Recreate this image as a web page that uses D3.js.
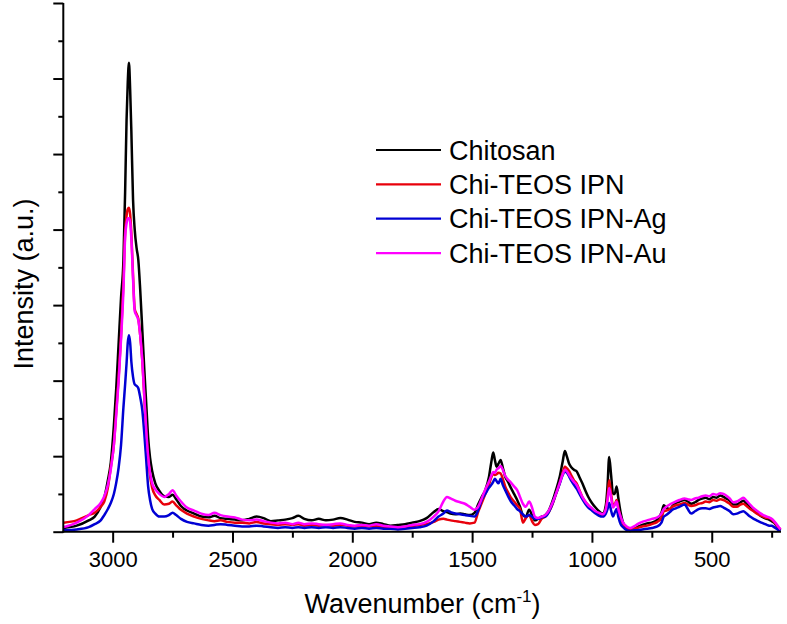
<!DOCTYPE html>
<html>
<head>
<meta charset="utf-8">
<script src="https://cdn.jsdelivr.net/npm/d3@7"></script>
<style>
  html, body { margin: 0; padding: 0; background: #fff; }
  svg { display: block; }
  text { font-family: "Liberation Sans", Arial, Helvetica, sans-serif; fill: #000; }
</style>
</head>
<body>
<svg id="chart" width="787" height="624"></svg>
<script>
// ---------------- data ----------------
const wavenumbers = [
  3205, 3150, 3100, 3075, 3050,
  3035, 3020, 3008, 2995, 2985, 2975, 2965, 2955, 2948, 2942, 2937, 2932, 2927, 2922, 2915, 2908,
  2900, 2893, 2885, 2876, 2868, 2860, 2852, 2844, 2835, 2822, 2805, 2785, 2765, 2750, 2735, 2715,
  2690, 2660, 2630, 2600, 2575, 2550, 2520, 2490, 2460, 2430, 2400, 2370, 2340, 2310, 2280, 2250,
  2225, 2200, 2170, 2140, 2110, 2080, 2050, 2020, 1990, 1960, 1930, 1900, 1870, 1840, 1810, 1780, 1750, 1720,
  1690, 1660, 1640, 1620, 1605, 1590, 1570, 1550, 1530, 1510,
  1490, 1475, 1460, 1445, 1430, 1420, 1412, 1405, 1398, 1390,
  1381, 1372, 1362, 1350, 1338, 1325, 1312, 1300, 1288, 1276,
  1262, 1250, 1238, 1225, 1210, 1195, 1180, 1165, 1150, 1135,
  1122, 1113, 1105, 1095, 1085, 1075, 1064, 1052, 1040, 1028,
  1015, 1000, 985, 970, 955, 942, 935, 928, 920, 912,
  905, 897, 890, 880, 870,
  855, 840, 825, 810, 790, 770, 750, 727, 710, 700,
  690, 675, 664, 650, 635, 613, 600, 586, 570, 555,
  540, 525, 510, 494, 480, 465, 451, 440, 425, 410,
  395, 380, 368, 355, 340, 325, 313, 300, 285, 270,
  261, 250, 240, 230, 220, 213
];

const chitosan = [
  0.05, 0.08, 0.15, 0.2, 0.33,
  0.45, 0.68, 0.91, 1.4, 1.9, 2.5, 3.1, 3.6, 4.5, 5.45, 5.95, 6.21, 5.85, 5.3, 4.4, 4.0,
  3.75, 3.6, 3.2, 2.65, 2.15, 1.7, 1.25, 0.98, 0.8, 0.64, 0.54, 0.47, 0.46, 0.49, 0.43, 0.34,
  0.28, 0.24, 0.2, 0.19, 0.21, 0.18, 0.17, 0.16, 0.15, 0.17, 0.2, 0.18, 0.14, 0.15, 0.16, 0.18,
  0.21, 0.17, 0.15, 0.17, 0.15, 0.16, 0.18, 0.16, 0.13, 0.12, 0.1, 0.12, 0.1, 0.08, 0.09, 0.1, 0.12, 0.14,
  0.18, 0.26, 0.3, 0.27, 0.26, 0.24, 0.23, 0.24, 0.23, 0.22,
  0.25, 0.36, 0.46, 0.55, 0.72, 0.92, 1.05, 0.95, 0.86, 0.9,
  0.95, 0.85, 0.73, 0.66, 0.58, 0.5, 0.42, 0.33, 0.22, 0.2,
  0.29, 0.22, 0.15, 0.17, 0.2, 0.22, 0.28, 0.4, 0.55, 0.72,
  0.93, 1.07, 1.0, 0.9, 0.85, 0.82, 0.8, 0.72, 0.64, 0.55,
  0.46, 0.38, 0.32, 0.27, 0.24, 0.35, 0.6, 0.99, 0.75, 0.5,
  0.5, 0.6, 0.45, 0.25, 0.12,
  0.06, 0.04, 0.04, 0.06, 0.09, 0.11, 0.12, 0.16, 0.25, 0.35,
  0.32, 0.3, 0.34, 0.38, 0.4, 0.42, 0.4, 0.37, 0.39, 0.42,
  0.44, 0.45, 0.43, 0.46, 0.45, 0.48, 0.46, 0.44, 0.41, 0.36,
  0.36, 0.39, 0.41, 0.37, 0.32, 0.28, 0.25, 0.22, 0.19, 0.17,
  0.16, 0.14, 0.12, 0.08, 0.04, 0.02
];

const chiTeosIpn = [
  0.12, 0.15, 0.22, 0.25, 0.33,
  0.4, 0.58, 0.85, 1.15, 1.6, 2.05, 2.6, 3.3, 3.95, 4.18, 4.27, 4.29, 4.2, 3.95, 3.4, 2.95,
  2.88, 2.82, 2.6, 2.25, 1.78, 1.32, 0.98, 0.74, 0.58, 0.48, 0.42, 0.36, 0.37, 0.4, 0.35, 0.29,
  0.24, 0.2, 0.17, 0.15, 0.14, 0.15, 0.13, 0.12, 0.12, 0.11, 0.13, 0.11, 0.1, 0.09, 0.1, 0.09,
  0.1, 0.08, 0.09, 0.08, 0.09, 0.08, 0.09, 0.08, 0.07, 0.08, 0.07, 0.08, 0.06, 0.06, 0.05, 0.06, 0.07, 0.09,
  0.1, 0.13, 0.16, 0.17, 0.16, 0.15, 0.14, 0.13, 0.12, 0.11,
  0.12, 0.26, 0.38, 0.5, 0.62, 0.72, 0.77, 0.75, 0.76, 0.78,
  0.77, 0.7, 0.6, 0.52, 0.45, 0.4, 0.35, 0.3, 0.12, 0.18,
  0.22, 0.14, 0.09, 0.1, 0.17, 0.2, 0.26, 0.36, 0.5, 0.64,
  0.78, 0.86, 0.84, 0.8, 0.74, 0.68, 0.64, 0.55, 0.46, 0.4,
  0.35, 0.3, 0.26, 0.23, 0.22, 0.3, 0.45, 0.68, 0.5, 0.35,
  0.36, 0.42, 0.32, 0.18, 0.1,
  0.05, 0.03, 0.04, 0.05, 0.07, 0.08, 0.1, 0.13, 0.18, 0.27,
  0.28, 0.3, 0.33, 0.35, 0.36, 0.38, 0.36, 0.34, 0.35, 0.37,
  0.38, 0.4, 0.39, 0.42, 0.41, 0.43, 0.42, 0.4, 0.37, 0.33,
  0.33, 0.36, 0.37, 0.34, 0.3, 0.27, 0.24, 0.22, 0.2, 0.18,
  0.18, 0.16, 0.13, 0.09, 0.05, 0.03
];

const chiTeosIpnAg = [
  0.02, 0.03, 0.06, 0.1, 0.15,
  0.22, 0.3, 0.38, 0.5, 0.65, 0.85, 1.15, 1.65, 1.95, 2.23, 2.5, 2.6, 2.5, 2.25, 2.05, 1.95,
  1.93, 1.9, 1.78, 1.6, 1.3, 0.95, 0.6, 0.42, 0.3, 0.24, 0.2, 0.2, 0.22, 0.25, 0.22, 0.17,
  0.13, 0.11, 0.09, 0.08, 0.09, 0.1, 0.09, 0.08, 0.07, 0.07, 0.08, 0.07, 0.06, 0.05, 0.06, 0.05,
  0.06, 0.05, 0.06, 0.05, 0.06, 0.05, 0.06, 0.05, 0.04, 0.05, 0.04, 0.05, 0.04, 0.04, 0.03, 0.04, 0.05, 0.06,
  0.08, 0.14, 0.2, 0.24, 0.28, 0.26, 0.24, 0.23, 0.22, 0.21,
  0.2, 0.28, 0.42, 0.5, 0.58, 0.62, 0.66, 0.7, 0.67, 0.64,
  0.7, 0.62, 0.55, 0.47, 0.4, 0.35, 0.3, 0.27, 0.23, 0.2,
  0.22, 0.2, 0.17, 0.17, 0.19, 0.2, 0.26, 0.37, 0.5, 0.63,
  0.75, 0.8, 0.78, 0.73, 0.67, 0.62, 0.57, 0.5, 0.43, 0.37,
  0.32, 0.28, 0.24, 0.21, 0.2, 0.24, 0.3, 0.38, 0.28, 0.2,
  0.25, 0.3, 0.2, 0.1, 0.06,
  0.02, 0.01, 0.02, 0.02, 0.03, 0.04, 0.05, 0.07, 0.12, 0.2,
  0.22, 0.26, 0.29, 0.31, 0.33, 0.36, 0.3, 0.24, 0.27, 0.3,
  0.31, 0.31, 0.3, 0.32, 0.33, 0.34, 0.32, 0.3, 0.27, 0.23,
  0.24, 0.26, 0.27, 0.24, 0.2, 0.17, 0.15, 0.13, 0.11, 0.09,
  0.08, 0.08, 0.06, 0.04, 0.02, 0.01
];

const chiTeosIpnAu = [
  0.06, 0.12, 0.22, 0.3, 0.38,
  0.47, 0.62, 0.82, 1.15, 1.55, 2.0, 2.55, 3.2, 3.9, 4.08, 4.15, 4.15, 4.1, 3.88, 3.35, 2.92,
  2.86, 2.8, 2.6, 2.25, 1.8, 1.35, 1.0, 0.78, 0.64, 0.56, 0.5, 0.46, 0.5, 0.55, 0.48, 0.4,
  0.32, 0.28, 0.24, 0.22, 0.25, 0.22, 0.2, 0.19, 0.16, 0.15, 0.16, 0.14, 0.12, 0.11, 0.12, 0.1,
  0.12, 0.1, 0.11, 0.1, 0.09, 0.1, 0.11, 0.09, 0.08, 0.09, 0.08, 0.1, 0.08, 0.07, 0.06, 0.07, 0.09, 0.1,
  0.13, 0.2, 0.27, 0.4, 0.46, 0.44, 0.41, 0.39, 0.37, 0.33,
  0.29, 0.33, 0.44, 0.56, 0.66, 0.74, 0.79, 0.78, 0.82, 0.84,
  0.87, 0.82, 0.74, 0.69, 0.65, 0.6, 0.55, 0.46, 0.37, 0.33,
  0.4, 0.32, 0.2, 0.18, 0.2, 0.22, 0.28, 0.38, 0.5, 0.64,
  0.76, 0.82, 0.8, 0.75, 0.7, 0.66, 0.62, 0.54, 0.46, 0.4,
  0.35, 0.31, 0.27, 0.25, 0.23, 0.3, 0.42, 0.58, 0.45, 0.32,
  0.35, 0.4, 0.3, 0.2, 0.12,
  0.07, 0.05, 0.07, 0.1, 0.13, 0.15, 0.17, 0.19, 0.24, 0.3,
  0.33, 0.36, 0.38, 0.4, 0.42, 0.44, 0.43, 0.42, 0.44, 0.45,
  0.47, 0.48, 0.47, 0.5, 0.49, 0.51, 0.5, 0.48, 0.44, 0.39,
  0.4, 0.43, 0.45, 0.41, 0.36, 0.31, 0.28, 0.25, 0.22, 0.2,
  0.19, 0.17, 0.14, 0.1, 0.06, 0.03
];

const seriesNames = ["Chitosan", "Chi-TEOS IPN", "Chi-TEOS IPN-Ag", "Chi-TEOS IPN-Au"];
const seriesColors = ["#000000", "#e8000b", "#0000d4", "#ff00ff"];
const xTickValues = [3000, 2500, 2000, 1500, 1000, 500];
const xMinorTickValues = [2750, 2250, 1750, 1250, 750, 250];
const yMajorTickValues = [0, 1, 2, 3, 4, 5, 6, 7];
const yMinorTickValues = [0.5, 1.5, 2.5, 3.5, 4.5, 5.5, 6.5];
const xTitle = "Wavenumber (cm";
const xTitleSup = "-1";
const yTitle = "Intensity (a.u.)";

// ---------------- drawing ----------------
const allSeries = [chitosan, chiTeosIpn, chiTeosIpnAg, chiTeosIpnAu];
const svg = d3.select("#chart");
svg.append("rect").attr("width", 787).attr("height", 624).attr("fill", "#fff");

const x = d3.scaleLinear().domain([3206, 211]).range([63.3, 781]);
const y = d3.scaleLinear().domain([0, 7]).range([531.7, 3]);

const plot = svg.append("g");
const line = d3.line()
  .x(d => x(d[0]))
  .y(d => y(d[1]))
  .curve(d3.curveMonotoneX);

[0, 1, 2, 3].forEach(i => {
  const pts = wavenumbers.map((w, k) => [w, allSeries[i][k]]);
  plot.append("path")
    .datum(pts)
    .attr("fill", "none")
    .attr("stroke", seriesColors[i])
    .attr("stroke-width", 2.5)
    .attr("stroke-linejoin", "round")
    .attr("d", line);
});

// Bottom axis
const xAxis = d3.axisBottom(x).tickValues(xTickValues).tickSize(11).tickPadding(9)
  .tickFormat(d3.format("d"));
const gx = svg.append("g").attr("transform", `translate(0,${y(0)})`).call(xAxis);
gx.select(".domain").remove();
gx.selectAll(".tick line").attr("stroke", "#000").attr("stroke-width", 2);
gx.selectAll(".tick text").attr("font-size", 22).attr("font-family", "Liberation Sans, Arial, sans-serif").attr("fill", "#000");
const gxMinor = svg.append("g").attr("transform", `translate(0,${y(0)})`)
  .call(d3.axisBottom(x).tickValues(xMinorTickValues).tickSize(6).tickFormat(""));
gxMinor.select(".domain").remove();
gxMinor.selectAll(".tick line").attr("stroke", "#000").attr("stroke-width", 2);
svg.append("line").attr("x1", x.range()[0] - 1).attr("x2", x.range()[1])
  .attr("y1", y(0)).attr("y2", y(0)).attr("stroke", "#000").attr("stroke-width", 2);

// Left axis
const gy = svg.append("g").attr("transform", `translate(${x.range()[0]},0)`)
  .call(d3.axisLeft(y).tickValues(yMajorTickValues).tickSize(10).tickFormat(""));
gy.select(".domain").remove();
gy.selectAll(".tick line").attr("stroke", "#000").attr("stroke-width", 2);
const gyMinor = svg.append("g").attr("transform", `translate(${x.range()[0]},0)`)
  .call(d3.axisLeft(y).tickValues(yMinorTickValues).tickSize(5).tickFormat(""));
gyMinor.select(".domain").remove();
gyMinor.selectAll(".tick line").attr("stroke", "#000").attr("stroke-width", 2);
svg.append("line").attr("x1", x.range()[0]).attr("x2", x.range()[0])
  .attr("y1", y(7)).attr("y2", y(0) + 1).attr("stroke", "#000").attr("stroke-width", 2);

// Axis titles
const xt = svg.append("text").attr("x", 422.5).attr("y", 613).attr("text-anchor", "middle")
  .attr("font-size", 27);
xt.append("tspan").text(xTitle);
xt.append("tspan").attr("font-size", 17).attr("dy", -11).text(xTitleSup);
xt.append("tspan").attr("dy", 11).text(")");

svg.append("text").attr("transform", "translate(33,284) rotate(-90)")
  .attr("text-anchor", "middle").attr("font-size", 27).text(yTitle);

// Legend
const legendY = [150, 184.3, 218.7, 253.2];
const lg = svg.append("g");
seriesNames.forEach((name, i) => {
  lg.append("line").attr("x1", 376).attr("x2", 441).attr("y1", legendY[i]).attr("y2", legendY[i])
    .attr("stroke", seriesColors[i]).attr("stroke-width", 2.2);
  lg.append("text").attr("x", 449).attr("y", legendY[i] + 9.5).attr("font-size", 27).text(name);
});
</script>
</body>
</html>
